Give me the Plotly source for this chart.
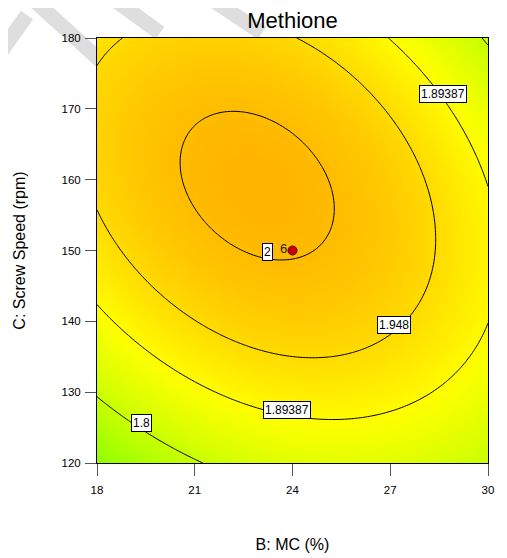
import numpy as np
import plotly.graph_objects as go
import colorsys

# Quadratic response-surface model (coded units), coefficients estimated from the picture's contours
# order: intercept, B, C, BC, B^2, C^2
model_coef = [2.0024, -0.0125, 0.0551, -0.0595, -0.0849, -0.1079]
B_center, B_half = 24, 6
C_center, C_half = 150, 30

B_grid = np.linspace(18, 30, 121)
C_grid = np.linspace(120, 180, 121)
U, V = np.meshgrid((B_grid - B_center) / B_half, (C_grid - C_center) / C_half)
b0, b1, b2, b12, b11, b22 = model_coef
Z = b0 + b1 * U + b2 * V + b12 * U * V + b11 * U ** 2 + b22 * V ** 2

levels = [1.8, 1.89387, 1.948, 2.0]
label_text = ["1.89387", "2", "1.948", "1.89387", "1.8"]
label_B = [28.62, 23.23, 27.13, 23.82, 19.37]
label_C = [172.09, 149.72, 139.55, 127.48, 125.65]

design_B = [24]
design_C = [150]
design_label = ["6"]

zmin, zmax = float(Z.min()), float(Z.max())
stops = []
for i in range(21):
    t = i / 20
    z = zmin + t * (zmax - zmin)
    hue = max(0, min(120, 60 - 143 * (z - 1.89)))
    r, g, b = colorsys.hsv_to_rgb(hue / 360, 1, 1)
    stops.append([t, f"rgb({int(r*255)},{int(g*255)},{int(b*255)})"])

font = "Liberation Sans, Arial, sans-serif"
fig = go.Figure()
fig.add_trace(go.Heatmap(x=B_grid, y=C_grid, z=Z, colorscale=stops, zsmooth="best",
                         showscale=False, hoverinfo="skip"))
for L in levels:
    fig.add_trace(go.Contour(x=B_grid, y=C_grid, z=Z, autocontour=False,
                             contours=dict(start=L, end=L, size=0.01, coloring="none"),
                             line=dict(color="black", width=1), showscale=False,
                             hoverinfo="skip"))
fig.add_trace(go.Scatter(x=design_B, y=design_C, mode="markers",
                         marker=dict(color="#cc0000", size=9, line=dict(color="#5a0000", width=1)),
                         hoverinfo="skip"))
for t, bx, cy in zip(label_text, label_B, label_C):
    fig.add_annotation(x=bx, y=cy, text=t, showarrow=False, bgcolor="white",
                       bordercolor="black", borderwidth=1, borderpad=1,
                       font=dict(family=font, size=12, color="black"))
for bx, cy, t in zip(design_B, design_C, design_label):
    fig.add_annotation(x=bx, y=cy, text=t, showarrow=False, xshift=-9, yshift=2,
                       font=dict(family=font, size=13, color="#222"))

# faint watermark strokes in the top-left margin (screen pixel positions)
PX0, PX1, PY0, PY1 = 97, 488, 38, 463
def to_paper(px, py):
    return (px - PX0) / (PX1 - PX0), (PY1 - py) / (PY1 - PY0)
strokes = [((28, -5), (102, 62)), ((108, -5), (160, 33)), ((205, -5), (262, 33)), ((-5, 60), (27, 15))]
for (p, q) in strokes:
    x0, y0 = to_paper(*p)
    x1, y1 = to_paper(*q)
    fig.add_shape(type="line", xref="paper", yref="paper", x0=x0, y0=y0, x1=x1, y1=y1,
                  line=dict(color="#dedede", width=15), layer="below")

# page body has an 8px margin, so the figure is sized/offset to land on the reference pixels
W, H = 499, 550
fig.update_layout(
    width=W, height=H, margin=dict(l=89, r=19, t=30, b=95),
    paper_bgcolor="white", plot_bgcolor="white", showlegend=False,
    title=dict(text="Methione", x=(89 + 391 / 2) / W, xanchor="center", y=1 - 12.5 / H,
               yanchor="middle", font=dict(family=font, size=22, color="black")),
    font=dict(family=font, color="black"),
)
fig.update_xaxes(range=[18, 30], tickvals=[18, 21, 24, 27, 30], ticks="outside", ticklen=12,
                 tickcolor="#555", showline=True, linecolor="black", linewidth=1, mirror=True,
                 showgrid=False, zeroline=False, tickfont=dict(size=11.5, family=font),
                 ticklabelstandoff=4, automargin=False,
                 title=dict(text="B: MC (%)", font=dict(size=16, family=font), standoff=44))
fig.update_yaxes(range=[120, 180], tickvals=[120, 130, 140, 150, 160, 170, 180], ticks="outside",
                 ticklen=11, tickcolor="#555", showline=True, linecolor="black", linewidth=1,
                 mirror=True, showgrid=False, zeroline=False, tickfont=dict(size=11.5, family=font),
                 ticklabelstandoff=2, automargin=False,
                 title=dict(text="C: Screw Speed (rpm)", font=dict(size=16, family=font), standoff=31))
fig.write_html("out.html")
